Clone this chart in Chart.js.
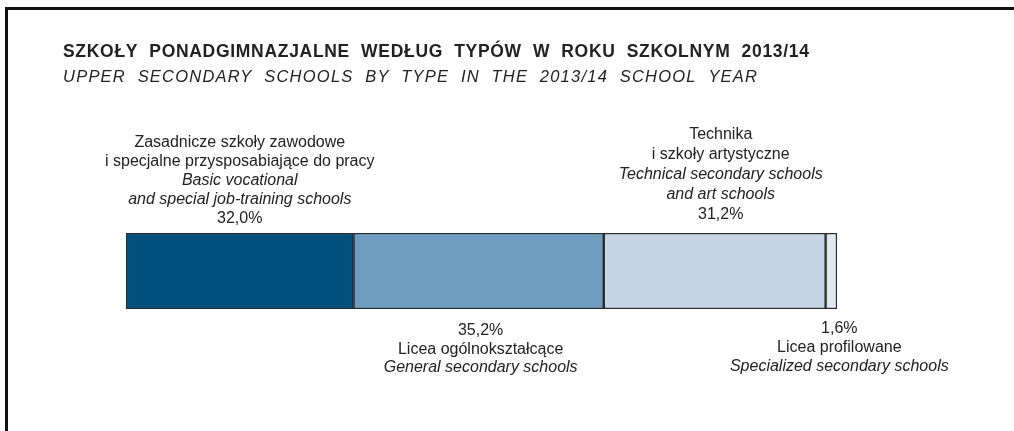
<!DOCTYPE html>
<html>
<head>
<meta charset="utf-8">
<script src="https://cdn.jsdelivr.net/npm/chart.js@4"></script>
<style>
    html, body { margin: 0; padding: 0; background: #fff; }
    #wrap { width: 1014px; height: 431px; }
</style>
</head>
<body>
<div id="wrap"><canvas id="myChart" width="1014" height="431"></canvas></div>
<script>
// Data (percent of schools)
const categories = [
    "Zasadnicze szkoły zawodowe i specjalne przysposabiające do pracy",
    "Licea ogólnokształcące",
    "Technika i szkoły artystyczne",
    "Licea profilowane"
]
const shares = [32.0, 35.2, 31.2, 1.6]
const shareLabels = ["32,0%", "35,2%", "31,2%", "1,6%"]
const labelsPl = [
    ["Zasadnicze szkoły zawodowe", "i specjalne przysposabiające do pracy"],
    ["Licea ogólnokształcące"],
    ["Technika", "i szkoły artystyczne"],
    ["Licea profilowane"]
]
const labelsEn = [
    ["Basic vocational", "and special job-training schools"],
    ["General secondary schools"],
    ["Technical secondary schools", "and art schools"],
    ["Specialized secondary schools"]
]
const colors = ["#00507d", "#6f9dbf", "#c5d5e6", "#dfe8f1"]

const titlePl = "SZKOŁY  PONADGIMNAZJALNE  WEDŁUG  TYPÓW  W  ROKU  SZKOLNYM  2013/14"
const titleEn = "UPPER  SECONDARY  SCHOOLS  BY  TYPE  IN  THE  2013/14  SCHOOL  YEAR"

// Where each label block sits: above or below the bar, small x nudge, line height
const labelPlace = [
    { side: "top", dx: 0, gap: 10, lh: 19 },
    { side: "bottom", dx: 2, gap: 26, lh: 18.5 },
    { side: "top", dx: 6, gap: 14, lh: 20 },
    { side: "bottom", dx: 8, gap: 24, lh: 19 }
]

const ctx = document.getElementById('myChart')

// Draw text stretched to a given width using letter spacing
const fillTracked = (c, text, x, y, width) => {
    c.letterSpacing = "0px"
    const w = c.measureText(text).width
    const sp = (width - w) / (text.length - 1)
    c.letterSpacing = sp + "px"
    c.fillText(text, x, y)
    c.letterSpacing = "0px"
}

// Draw frame, titles and segment labels
const decorPlugin = {
    id: 'decor',
    beforeDraw: chart => {
        const c = chart.ctx
        c.save()
        c.fillStyle = "#fff"
        c.fillRect(0, 0, chart.width, chart.height)
        c.strokeStyle = "#111"
        c.lineWidth = 3
        c.strokeRect(6.5, 8.5, chart.width + 20, chart.height + 20)
        c.restore()
    },
    afterDraw: chart => {
        const c = chart.ctx
        c.save()
        c.fillStyle = "#222"
        c.textBaseline = "alphabetic"

        c.textAlign = "left"
        c.font = "bold 17.5px 'Liberation Sans', Arial, sans-serif"
        fillTracked(c, titlePl, 63, 57, 746)
        c.font = "italic 16.5px 'Liberation Sans', Arial, sans-serif"
        fillTracked(c, titleEn, 63, 82, 694)

        c.textAlign = "center"
        const plFont = "16px 'Liberation Sans', Arial, sans-serif"
        const enFont = "italic 16px 'Liberation Sans', Arial, sans-serif"

        chart.data.datasets.forEach((ds, i) => {
            const bar = chart.getDatasetMeta(i).data[0]
            const left = Math.min(bar.x, bar.base)
            const right = Math.max(bar.x, bar.base)
            const top = bar.y - bar.height / 2
            const bottom = bar.y + bar.height / 2
            const p = labelPlace[i]
            const x = (left + right) / 2 + p.dx

            let lines = []
            if (p.side === "top") {
                labelsPl[i].forEach(t => lines.push({ t, f: plFont }))
                labelsEn[i].forEach(t => lines.push({ t, f: enFont }))
                lines.push({ t: shareLabels[i], f: plFont })
                let y = top - p.gap - (lines.length - 1) * p.lh
                lines.forEach(l => {
                    c.font = l.f
                    c.fillText(l.t, x, y)
                    y += p.lh
                })
            } else {
                lines.push({ t: shareLabels[i], f: plFont })
                labelsPl[i].forEach(t => lines.push({ t, f: plFont }))
                labelsEn[i].forEach(t => lines.push({ t, f: enFont }))
                let y = bottom + p.gap
                lines.forEach(l => {
                    c.font = l.f
                    c.fillText(l.t, x, y)
                    y += p.lh
                })
            }
        })
        c.restore()
    }
}

const chart = new Chart(ctx, {
    type: "bar",
    data: {
        labels: [""],
        datasets: categories.map((name, i) => ({
            label: name,
            data: [shares[i]],
            backgroundColor: colors[i],
            borderColor: "#2a2a2a",
            borderWidth: 1.5,
            borderSkipped: false,
            barPercentage: 1,
            categoryPercentage: 1
        }))
    },
    options: {
        indexAxis: "y",
        responsive: false,
        animation: false,
        layout: {
            padding: { left: 126, right: 177, top: 233, bottom: 122 }
        },
        plugins: {
            legend: { display: false },
            tooltip: { enabled: false },
            title: { display: false }
        },
        scales: {
            x: { stacked: true, min: 0, max: 100, display: false },
            y: { stacked: true, display: false }
        }
    },
    plugins: [decorPlugin]
})
</script>
</body>
</html>
